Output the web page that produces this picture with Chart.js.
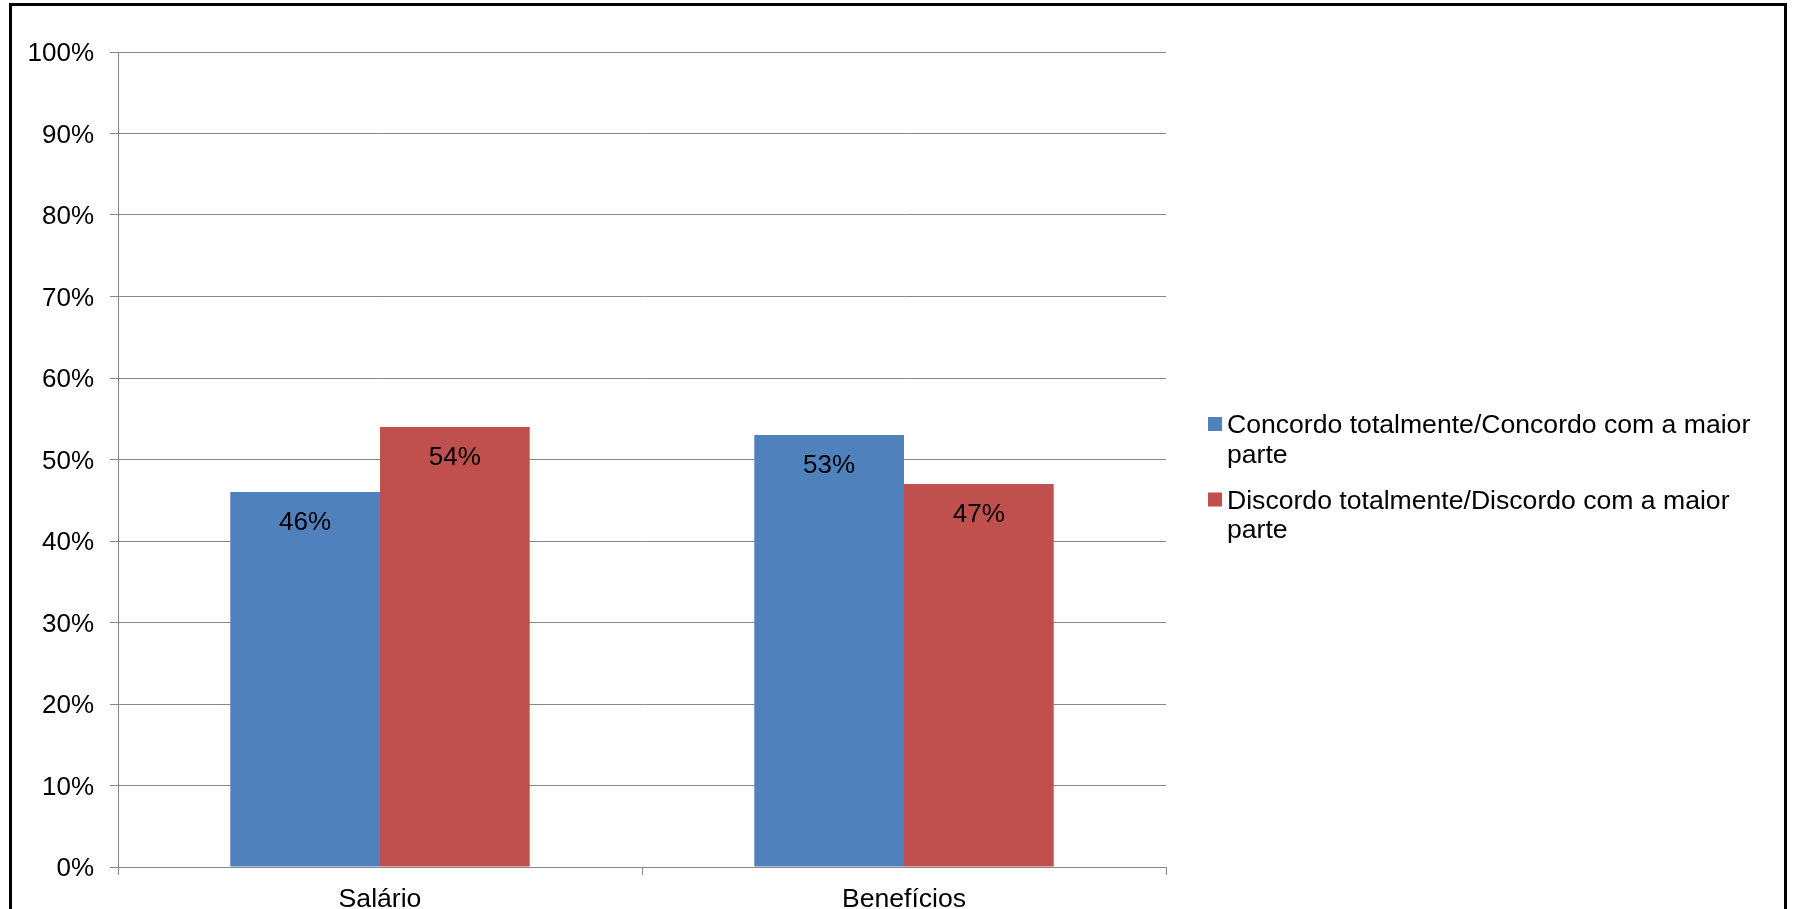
<!DOCTYPE html>
<html>
<head>
<meta charset="utf-8">
<script src="https://cdn.jsdelivr.net/npm/chart.js@4/dist/chart.umd.min.js"></script>
<style>
  html, body { margin: 0; padding: 0; background: #fff; overflow: hidden; }
  #c { display: block; }
</style>
</head>
<body>
<canvas id="c" width="1793" height="909"></canvas>
<script>
const categories = ['Salário', 'Benefícios'];
const seriesNames = ['Concordo totalmente/Concordo com a maior parte', 'Discordo totalmente/Discordo com a maior parte'];
const concordo = [46, 53];
const discordo = [54, 47];
const yTicks = [0, 10, 20, 30, 40, 50, 60, 70, 80, 90, 100];

const FONT = '"Liberation Sans", Arial, sans-serif';
const GRID = '#878787';

const frame = {
  id: 'frame',
  beforeDraw(chart) {
    const ctx = chart.ctx;
    ctx.save();
    ctx.fillStyle = '#fff';
    ctx.fillRect(0, 0, chart.width, chart.height);
    ctx.restore();
  },
  afterDraw(chart) {
    const ctx = chart.ctx;
    ctx.save();
    ctx.strokeStyle = '#000';
    ctx.lineWidth = 3;
    ctx.strokeRect(10.5, 4.5, 1775, 930);
    ctx.restore();
  }
};

const valueLabels = {
  id: 'valueLabels',
  afterDatasetsDraw(chart) {
    const ctx = chart.ctx;
    ctx.save();
    ctx.font = '26px ' + FONT;
    ctx.fillStyle = '#000';
    ctx.textAlign = 'center';
    ctx.textBaseline = 'alphabetic';
    chart.data.datasets.forEach((ds, i) => {
      chart.getDatasetMeta(i).data.forEach((bar, j) => {
        ctx.fillText(ds.data[j] + '%', bar.x, bar.y + 38);
      });
    });
    ctx.restore();
  }
};

const customLegend = {
  id: 'customLegend',
  afterDraw(chart) {
    const ctx = chart.ctx;
    ctx.save();
    ctx.font = '26.6px ' + FONT;
    ctx.fillStyle = '#000';
    ctx.textAlign = 'left';
    ctx.textBaseline = 'alphabetic';
    const textX = 1227, boxX = 1208, box = 14, maxW = 550;
    const lineH = 29.5, firstBase = 433, gap = 16.5;
    let base = firstBase;
    chart.data.datasets.forEach((ds) => {
      const words = ds.label.split(' ');
      const lines = [];
      let cur = '';
      words.forEach(w => {
        const t = cur ? cur + ' ' + w : w;
        if (ctx.measureText(t).width > maxW && cur) { lines.push(cur); cur = w; }
        else cur = t;
      });
      if (cur) lines.push(cur);
      ctx.fillStyle = ds.backgroundColor;
      ctx.fillRect(boxX, base - 16, box, box);
      ctx.fillStyle = '#000';
      lines.forEach((ln, k) => ctx.fillText(ln, textX, base + k * lineH));
      base += lines.length * lineH + gap;
    });
    ctx.restore();
  }
};

new Chart(document.getElementById('c'), {
  type: 'bar',
  data: {
    labels: categories,
    datasets: [
      { label: seriesNames[0], data: concordo, backgroundColor: '#4F81BD', borderWidth: 0 },
      { label: seriesNames[1], data: discordo, backgroundColor: '#C0504D', borderWidth: 0 }
    ]
  },
  options: {
    responsive: false,
    animation: false,
    devicePixelRatio: 1,
    layout: { padding: { left: 0, top: 52, right: 627, bottom: 0 } },
    plugins: { legend: { display: false }, tooltip: { enabled: false } },
    datasets: { bar: { categoryPercentage: 2 / 3.5, barPercentage: 1 } },
    scales: {
      x: {
        afterFit(s) { s.height = 42; },
        grid: { offset: true, drawOnChartArea: false, drawTicks: true, tickLength: 8, color: GRID, lineWidth: 1 },
        border: { display: true, color: GRID, width: 1 },
        ticks: { color: '#000', font: { size: 26.6, family: FONT }, padding: 8.5 }
      },
      y: {
        min: 0, max: 100,
        afterFit(s) { s.width = 118; },
        afterBuildTicks(s) { s.ticks = yTicks.map(v => ({ value: v })); },
        grid: { color: GRID, lineWidth: 1, tickLength: 8, drawTicks: true },
        border: { display: true, color: GRID, width: 1 },
        ticks: { color: '#000', font: { size: 26, family: FONT }, padding: 16, labelOffset: 2, callback: v => v + '%' }
      }
    }
  },
  plugins: [frame, valueLabels, customLegend]
});
</script>
</body>
</html>
